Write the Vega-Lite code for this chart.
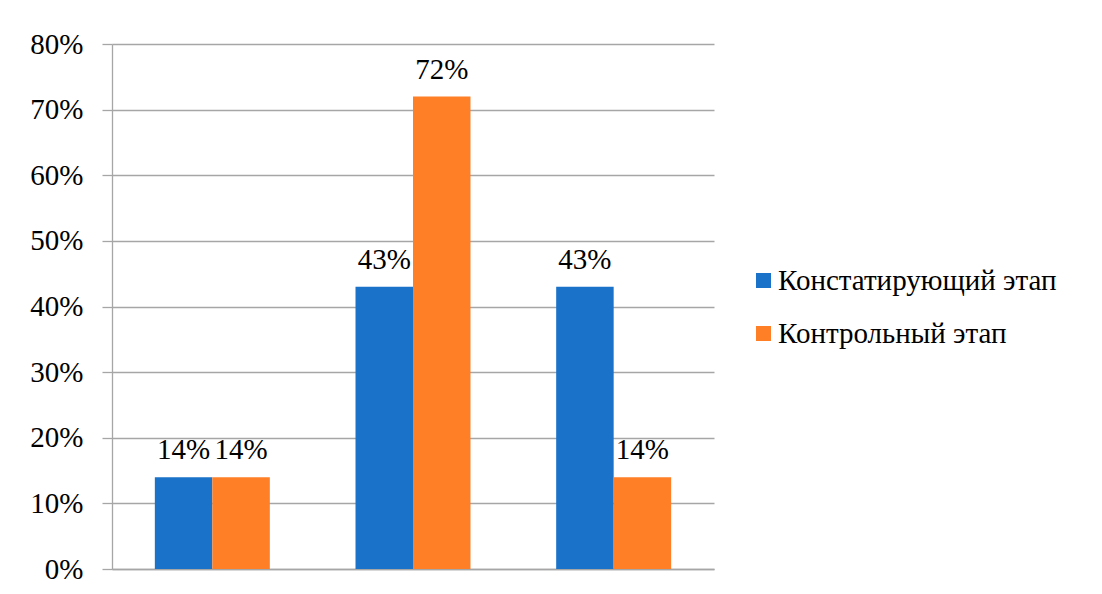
{
  "$schema": "https://vega.github.io/schema/vega-lite/v6.json",
  "width": 602,
  "height": 525,
  "autosize": {"type": "none"},
  "padding": {"left": 112, "top": 44, "right": 388, "bottom": 25},
  "background": "white",
  "config": {
    "view": {"stroke": null},
    "font": "'Liberation Serif', 'DejaVu Serif', serif"
  },
  "data": {
    "values": [
      {"group": "1", "stage": "Констатирующий этап", "value": 0.14},
      {"group": "1", "stage": "Контрольный этап", "value": 0.14},
      {"group": "2", "stage": "Констатирующий этап", "value": 0.43},
      {"group": "2", "stage": "Контрольный этап", "value": 0.72},
      {"group": "3", "stage": "Констатирующий этап", "value": 0.43},
      {"group": "3", "stage": "Контрольный этап", "value": 0.14}
    ]
  },
  "encoding": {
    "x": {
      "field": "group",
      "type": "nominal",
      "scale": {"paddingInner": 0.427, "paddingOuter": 0.2135},
      "axis": {
        "title": null,
        "labels": false,
        "ticks": false,
        "domain": true,
        "domainColor": "#A6A6A6",
        "domainWidth": 1.3,
        "grid": false
      }
    },
    "xOffset": {
      "field": "stage",
      "type": "nominal",
      "sort": ["Констатирующий этап", "Контрольный этап"],
      "scale": {"paddingInner": 0, "paddingOuter": 0}
    },
    "y": {
      "field": "value",
      "type": "quantitative",
      "scale": {"domain": [0, 0.8], "nice": false},
      "axis": {
        "title": null,
        "format": ".0%",
        "values": [0, 0.1, 0.2, 0.3, 0.4, 0.5, 0.6, 0.7, 0.8],
        "labelFont": "'Liberation Serif', 'DejaVu Serif', serif",
        "labelFontSize": 29,
        "labelColor": "black",
        "labelPadding": 19,
        "tickSize": 10,
        "tickColor": "#A6A6A6",
        "tickWidth": 1.3,
        "domainColor": "#A6A6A6",
        "domainWidth": 1.3,
        "gridColor": "#A6A6A6",
        "gridWidth": 1.3
      }
    }
  },
  "layer": [
    {
      "mark": {"type": "bar"},
      "encoding": {
        "color": {
          "field": "stage",
          "type": "nominal",
          "sort": ["Констатирующий этап", "Контрольный этап"],
          "scale": {"range": ["#1B72C9", "#FF7F27"]},
          "legend": {
            "title": null,
            "orient": "none",
            "legendX": 637,
            "legendY": 222,
            "symbolType": "square",
            "symbolSize": 225,
            "symbolStrokeWidth": 0,
            "labelFont": "'Liberation Serif', 'DejaVu Serif', serif",
            "labelFontSize": 29,
            "labelColor": "black",
            "labelOffset": 0,
            "rowPadding": 23,
            "labelLimit": 400
          }
        }
      }
    },
    {
      "mark": {
        "type": "text",
        "baseline": "alphabetic",
        "dy": -18,
        "fontSize": 29,
        "font": "'Liberation Serif', 'DejaVu Serif', serif",
        "color": "black"
      },
      "encoding": {
        "text": {"field": "value", "type": "quantitative", "format": ".0%"}
      }
    }
  ]
}
